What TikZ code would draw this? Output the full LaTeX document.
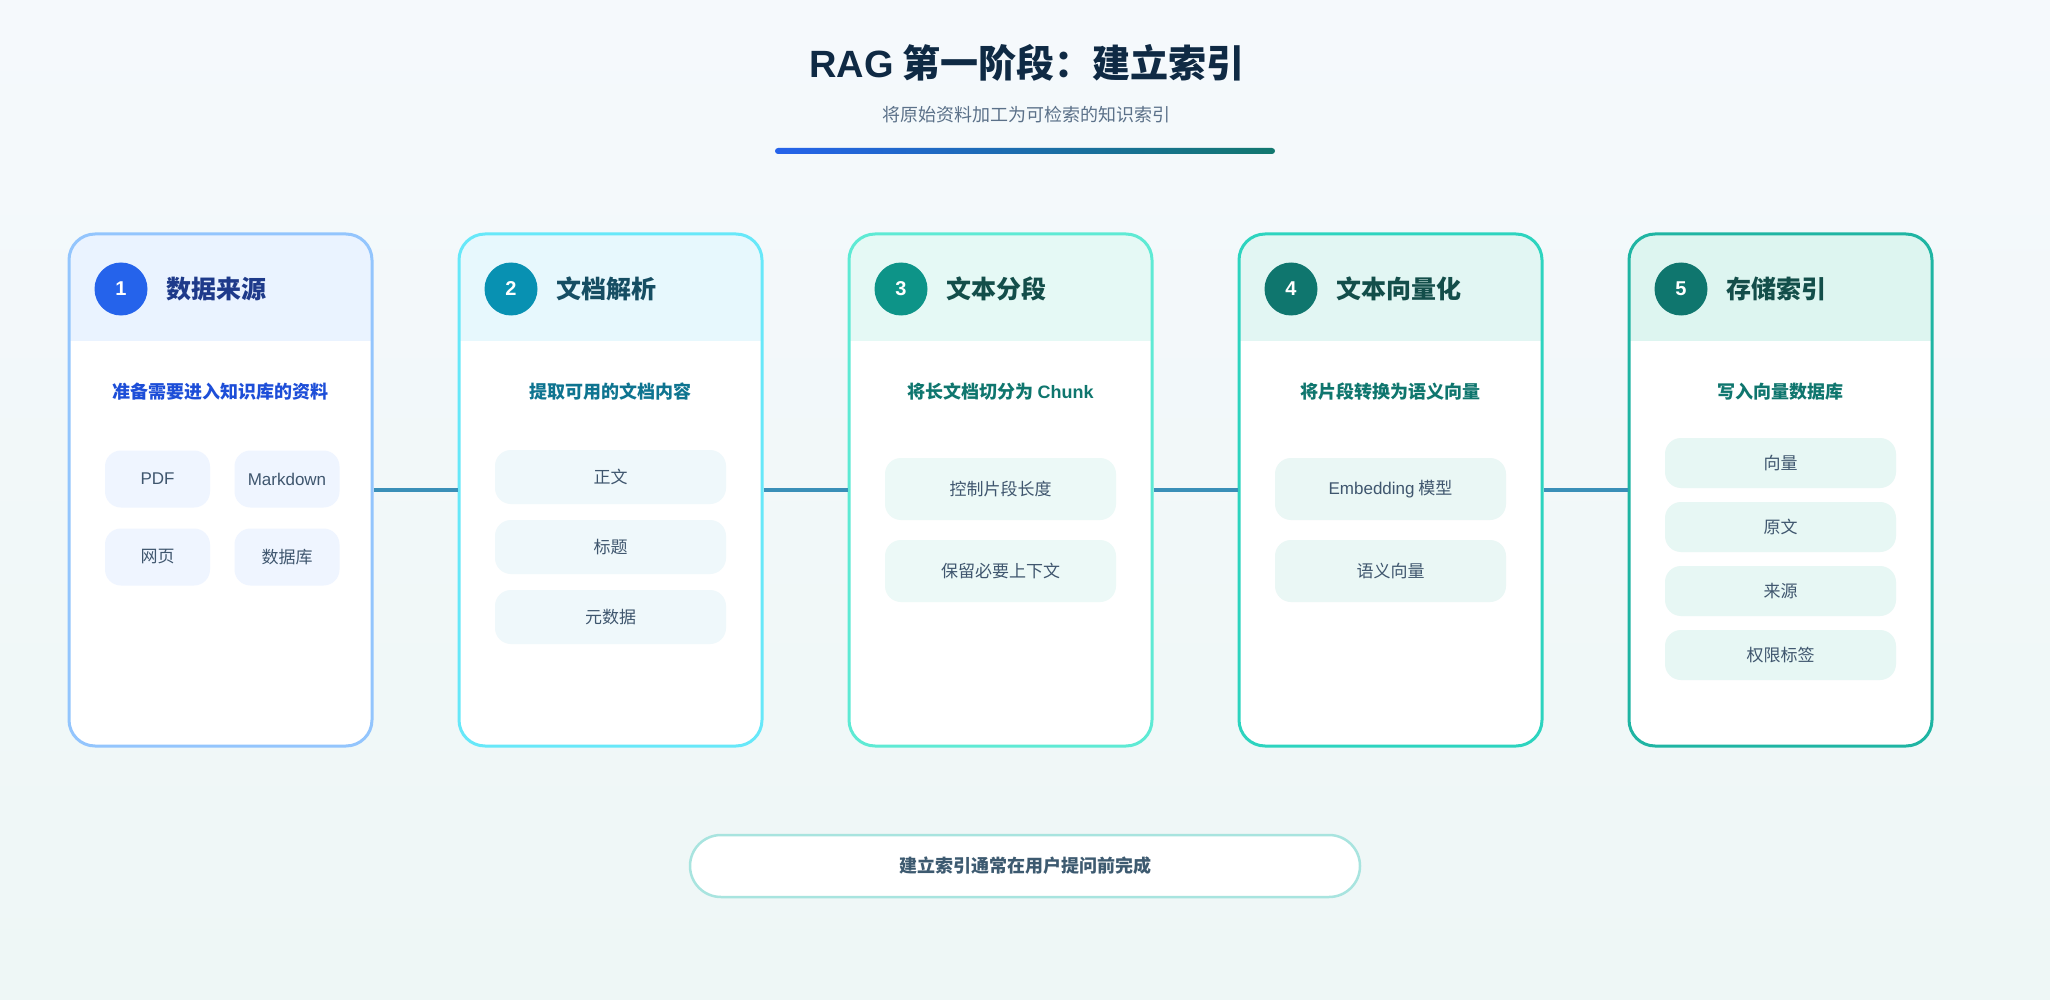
\documentclass[tikz,border=0pt]{standalone}
\usepackage{fontspec}
\setmainfont{Noto Sans CJK SC}
\newfontfamily\lat{Liberation Sans}
\newcommand\myfs[1]{\fontsize{#1}{#1}\selectfont}
\definecolor{bgtop}{HTML}{F5F9FC}
\definecolor{bgbot}{HTML}{EEF7F6}
\definecolor{ttl}{HTML}{0F2A44}
\definecolor{subttl}{HTML}{5B7189}
\definecolor{barL}{HTML}{2563EB}
\definecolor{barR}{HTML}{12786E}
\definecolor{conn}{HTML}{3A8FB8}
\definecolor{chiptxt}{HTML}{3F566E}
\definecolor{pillbd}{HTML}{A8E4DF}
\definecolor{pilltxt}{HTML}{3D5A70}
% card 1
\definecolor{bdA}{HTML}{93C5FD}\definecolor{hdA}{HTML}{EAF3FF}\definecolor{ciA}{HTML}{2563EB}
\definecolor{tiA}{HTML}{1E3A8A}\definecolor{suA}{HTML}{1D4ED8}\definecolor{chA}{HTML}{EFF5FF}
% card 2
\definecolor{bdB}{HTML}{67E8F9}\definecolor{hdB}{HTML}{E7F8FD}\definecolor{ciB}{HTML}{0891B2}
\definecolor{tiB}{HTML}{164E63}\definecolor{suB}{HTML}{0E7490}\definecolor{chB}{HTML}{EFF8FB}
% card 3
\definecolor{bdC}{HTML}{5EEAD4}\definecolor{hdC}{HTML}{E5F9F5}\definecolor{ciC}{HTML}{0D9488}
\definecolor{tiC}{HTML}{134E4A}\definecolor{suC}{HTML}{0F766E}\definecolor{chC}{HTML}{ECF9F7}
% card 4
\definecolor{bdD}{HTML}{2DD4BF}\definecolor{hdD}{HTML}{E2F6F3}\definecolor{ciD}{HTML}{0F766E}
\definecolor{tiD}{HTML}{134E4A}\definecolor{suD}{HTML}{0F766E}\definecolor{chD}{HTML}{EAF7F5}
% card 5
\definecolor{bdE}{HTML}{1FB5A3}\definecolor{hdE}{HTML}{DDF5F0}\definecolor{ciE}{HTML}{0F766E}
\definecolor{tiE}{HTML}{134E4A}\definecolor{suE}{HTML}{0F766E}\definecolor{chE}{HTML}{E7F7F4}
\tikzset{
  card/.style n args={2}{draw=#1, line width=3pt, fill=white, rounded corners=26pt,
    minimum width=303pt, minimum height=512pt, inner sep=0pt,
    path picture={\fill[#2, sharp corners] (path picture bounding box.north west) rectangle
      ([yshift=-107pt]path picture bounding box.north east);}},
  numc/.style={circle, fill=#1, minimum size=53pt, inner sep=0pt, text=white,
    font=\lat\bfseries\myfs{20}},
  cardttl/.style={anchor=west, inner sep=0pt, text=#1, font=\bfseries\myfs{25}},
  cardsub/.style={inner sep=0pt, text=#1, font=\bfseries\myfs{18}},
  chip/.style n args={3}{fill=#1, rounded corners=16pt, minimum width=#2,
    minimum height=#3, inner sep=0pt, text=chiptxt, font=\myfs{17}},
  link/.style={draw=conn, line width=4pt},
}
\begin{document}
\begin{tikzpicture}[x=1pt,y=-1pt]
\useasboundingbox (0,0) rectangle (2050,1000);
\shade[top color=bgtop, bottom color=bgbot] (0,0) rectangle (2050,1000);

% title
\node[inner sep=0pt, text=ttl, font=\bfseries\myfs{38}] (title) at (1027,63)
  {{\lat\bfseries RAG} 第一阶段：建立索引};
\node[inner sep=0pt, text=subttl, font=\myfs{18}] (subtitle) at (1026,115)
  {将原始资料加工为可检索的知识索引};
\shade[left color=barL, right color=barR, rounded corners=3pt] (775,148) rectangle (1275,154);

% cards
\node[card={bdA}{hdA}] (c1) at (220.5,490) {};
\node[card={bdB}{hdB}] (c2) at (610.5,490) {};
\node[card={bdC}{hdC}] (c3) at (1000.5,490) {};
\node[card={bdD}{hdD}] (c4) at (1390.5,490) {};
\node[card={bdE}{hdE}] (c5) at (1780.5,490) {};

% connectors
\draw[link] (c1.east) -- (c2.west);
\draw[link] (c2.east) -- (c3.west);
\draw[link] (c3.east) -- (c4.west);
\draw[link] (c4.east) -- (c5.west);

% headers
\node[numc=ciA] (n1) at (121,289) {1};
\node[cardttl=tiA] (t1) at (166,289) {数据来源};
\node[numc=ciB] (n2) at (511,289) {2};
\node[cardttl=tiB] (t2) at (556,289) {文档解析};
\node[numc=ciC] (n3) at (901,289) {3};
\node[cardttl=tiC] (t3) at (946,289) {文本分段};
\node[numc=ciD] (n4) at (1291,289) {4};
\node[cardttl=tiD] (t4) at (1336,289) {文本向量化};
\node[numc=ciE] (n5) at (1681,289) {5};
\node[cardttl=tiE] (t5) at (1726,289) {存储索引};

% subtitles
\node[cardsub=suA] (s1) at (220.5,392) {准备需要进入知识库的资料};
\node[cardsub=suB] (s2) at (610.5,392) {提取可用的文档内容};
\node[cardsub=suC] (s3) at (1000.5,392) {将长文档切分为 {\lat\bfseries Chunk}};
\node[cardsub=suD] (s4) at (1390.5,392) {将片段转换为语义向量};
\node[cardsub=suE] (s5) at (1780.5,392) {写入向量数据库};

% card 1 chips
\node[chip={chA}{105pt}{57pt}] (a1) at (157.5,479) {\lat PDF};
\node[chip={chA}{105pt}{57pt}] (a2) at (287,479) {\lat Markdown};
\node[chip={chA}{105pt}{57pt}] (a3) at (157.5,557) {网页};
\node[chip={chA}{105pt}{57pt}] (a4) at (287,557) {数据库};

% card 2 chips
\node[chip={chB}{231pt}{54pt}] (b1) at (610.5,477) {正文};
\node[chip={chB}{231pt}{54pt}] (b2) at (610.5,547) {标题};
\node[chip={chB}{231pt}{54pt}] (b3) at (610.5,617) {元数据};

% card 3 chips
\node[chip={chC}{231pt}{62pt}] (d1) at (1000.5,489) {控制片段长度};
\node[chip={chC}{231pt}{62pt}] (d2) at (1000.5,571) {保留必要上下文};

% card 4 chips
\node[chip={chD}{231pt}{62pt}] (e1) at (1390.5,489) {{\lat Embedding} 模型};
\node[chip={chD}{231pt}{62pt}] (e2) at (1390.5,571) {语义向量};

% card 5 chips
\node[chip={chE}{231pt}{50pt}] (f1) at (1780.5,463) {向量};
\node[chip={chE}{231pt}{50pt}] (f2) at (1780.5,527) {原文};
\node[chip={chE}{231pt}{50pt}] (f3) at (1780.5,591) {来源};
\node[chip={chE}{231pt}{50pt}] (f4) at (1780.5,655) {权限标签};

% bottom note
\node[draw=pillbd, line width=2.5pt, fill=white, rounded corners=31pt,
  minimum width=670pt, minimum height=62pt, inner sep=0pt, text=pilltxt,
  font=\bfseries\myfs{18}] (note) at (1025,866) {建立索引通常在用户提问前完成};
\end{tikzpicture}
\end{document}
